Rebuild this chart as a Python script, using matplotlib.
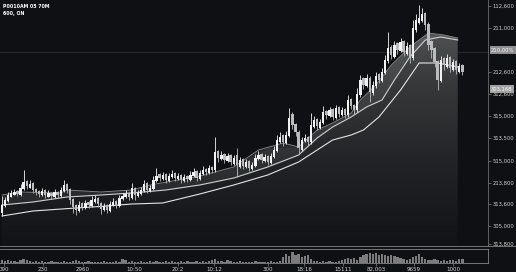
import matplotlib
matplotlib.use("Agg")
import matplotlib.pyplot as plt
from matplotlib.colors import LinearSegmentedColormap
from matplotlib.lines import Line2D
import numpy as np

# candle data (price units, index = bar number)
opens = [37, 44, 49, 53, 55, 59, 55, 61, 69, 62,
         67, 61, 59, 55, 60, 53, 57, 53, 58, 54,
         59, 66, 61, 51, 45, 39, 47, 42, 48, 44,
         48, 52, 47, 40, 45, 39, 45, 49, 44, 51,
         53, 57, 52, 62, 54, 56, 59, 67, 59, 61,
         69, 76, 71, 76, 69, 73, 77, 71, 75, 69,
         74, 70, 74, 79, 71, 76, 81, 77, 83, 80,
         99, 91, 96, 89, 95, 86, 95, 83, 91, 83,
         89, 81, 84, 91, 96, 89, 94, 87, 93, 99,
         108, 115, 107, 114, 136, 126, 118, 100, 109, 113,
         108, 123, 131, 122, 127, 139, 134, 141, 132, 143,
         135, 141, 135, 151, 145, 140, 155, 172, 164, 172,
         157, 164, 176, 169, 177, 189, 203, 193, 207, 199,
         209, 196, 205, 192, 220, 227, 229, 237, 226, 209,
         202, 189, 169, 192, 183, 193, 180, 189, 178, 185]
closes = [45, 50, 55, 57, 58, 56, 62, 68, 64, 66,
          60, 58, 56, 59, 55, 57, 54, 58, 55, 60,
          65, 60, 50, 43, 40, 45, 43, 47, 45, 50,
          51, 46, 41, 44, 40, 46, 48, 45, 52, 54,
          56, 53, 62, 55, 57, 60, 66, 60, 62, 70,
          74, 72, 75, 70, 74, 76, 72, 74, 70, 73,
          71, 75, 78, 72, 77, 80, 78, 82, 80, 98,
          92, 95, 90, 94, 88, 92, 85, 90, 84, 88,
          82, 85, 92, 95, 90, 93, 88, 94, 100, 110,
          113, 108, 115, 132, 125, 118, 102, 110, 112, 108,
          125, 130, 124, 128, 138, 135, 140, 133, 142, 136,
          140, 135, 150, 144, 140, 156, 170, 165, 172, 158,
          165, 174, 170, 178, 190, 202, 195, 205, 200, 208,
          198, 204, 192, 222, 230, 232, 236, 225, 205, 200,
          188, 170, 190, 185, 192, 182, 188, 180, 184, 178]
highs = [54, 53, 58, 60, 61, 60, 66, 80, 70, 70,
         68, 62, 60, 62, 61, 60, 58, 61, 59, 63,
         70, 67, 62, 52, 46, 49, 48, 50, 49, 54,
         55, 53, 48, 47, 46, 49, 52, 50, 55, 57,
         60, 58, 67, 63, 60, 63, 70, 68, 65, 74,
         82, 77, 78, 77, 77, 80, 78, 77, 76, 76,
         75, 79, 82, 80, 80, 84, 82, 85, 84, 113,
         100, 99, 97, 97, 96, 95, 102, 93, 92, 91,
         90, 88, 96, 99, 97, 96, 95, 97, 104, 115,
         118, 116, 119, 142, 138, 127, 120, 113, 116, 114,
         137, 134, 132, 131, 144, 140, 143, 142, 145, 144,
         143, 142, 155, 152, 146, 162, 175, 173, 176, 174,
         169, 178, 177, 182, 195, 218, 205, 209, 208, 212,
         210, 208, 206, 230, 236, 245, 242, 238, 228, 210,
         203, 190, 194, 193, 196, 194, 191, 190, 187, 186]
lows = [34, 43, 48, 53, 55, 54, 54, 60, 61, 62,
        57, 55, 53, 54, 52, 53, 51, 52, 52, 53,
        58, 57, 46, 37, 35, 38, 40, 41, 42, 43,
        47, 43, 36, 39, 37, 38, 44, 42, 43, 50,
        52, 50, 51, 50, 53, 55, 58, 57, 58, 60,
        68, 69, 70, 67, 68, 72, 69, 70, 67, 68,
        68, 69, 73, 69, 70, 75, 75, 76, 77, 78,
        88, 90, 87, 88, 85, 85, 73, 82, 81, 82,
        79, 80, 83, 90, 87, 88, 85, 86, 92, 98,
        107, 104, 106, 113, 121, 114, 97, 99, 108, 105,
        106, 122, 120, 121, 126, 131, 133, 130, 131, 133,
        134, 132, 133, 141, 136, 138, 153, 161, 163, 148,
        155, 162, 167, 168, 176, 187, 191, 192, 196, 198,
        194, 195, 187, 190, 218, 226, 228, 220, 200, 192,
        183, 160, 168, 180, 182, 178, 179, 176, 177, 175]
volumes = [3, 2, 3, 2, 2, 1, 3, 4, 3, 2,
           1, 2, 1, 2, 1, 1, 2, 1, 1, 1,
           2, 1, 1, 2, 3, 2, 1, 1, 2, 1,
           1, 1, 1, 2, 1, 1, 1, 2, 1, 4,
           3, 1, 2, 1, 1, 2, 1, 1, 2, 1,
           2, 1, 1, 2, 1, 2, 1, 1, 2, 1,
           2, 1, 1, 2, 1, 2, 1, 2, 3, 4,
           2, 2, 1, 3, 2, 1, 1, 2, 1, 1,
           1, 1, 2, 1, 1, 1, 1, 2, 1, 1,
           2, 6, 9, 7, 11, 8, 9, 6, 7, 8,
           4, 2, 2, 1, 2, 1, 2, 1, 1, 2,
           3, 4, 5, 4, 5, 3, 6, 8, 9, 10,
           9, 10, 8, 9, 8, 7, 8, 7, 6, 5,
           4, 3, 4, 6, 7, 9, 6, 4, 3, 3,
           4, 3, 2, 3, 2, 3, 3, 2, 4, 4]

# shaded band top edge and the two averages (bar index, price)
band_x = [0, 6, 19, 21, 32, 42, 48, 64, 75, 83, 91, 96, 102, 107, 113,
          116, 121, 126, 132, 138, 143, 147.5]
band_y = [55, 58, 57, 60, 58, 60, 65, 74, 83, 100, 107, 103, 120, 127, 137,
          150, 165, 185, 203, 217, 215, 212]
fast_x = [0, 10, 21, 32, 42, 53, 64, 75, 86, 96, 102, 107, 113, 118, 123,
          127, 132, 137, 142, 147.5]
fast_y = [45, 48, 53, 55, 57, 60, 65, 72, 83, 95, 112, 123, 133, 143, 150,
          170, 193, 210, 213, 210]
slow_x = [0, 10, 24, 34, 42, 52, 64, 75, 86, 96, 102, 107, 113, 117, 122,
          129, 135, 141, 147.5]
slow_y = [34, 39, 42, 44, 46, 47, 56, 65, 75, 88, 100, 110, 115, 120, 133,
          160, 187, 187, 183]

# axis text
header_lines = ["P0010AM 05 70M", "600, ON"]
ytick_pos = [244, 222, 178, 156, 134, 112, 89, 67, 46, 24, 6]
ytick_labels = ["112,600", "211,000", "212,600", "312,600", "315,000", "313,500",
                "515,000", "213,800", "313,600", "305,000", "313,800"]
marker_pos = [200, 161]
marker_labels = ["210,00%", "303,168"]
xtick_pos = [0.65, 13.3, 26.2, 42.7, 57, 68.6, 86.1, 97.7, 110.4, 121, 133.3, 146]
xtick_labels = ["090", "230", "2960", "10:50", "20:2", "10:12", "300", "18:16",
                "15111", "82,003", "9659", "1000"]

BG = "#0f1014"
TEXT = "#d2d2d2"
FRAME = "#858585"
W, H = 516, 272
XLIM = (-0.65, 157.3)
YLIM = (4, 250)

fig = plt.figure(figsize=(W / 100, H / 100), dpi=100, facecolor=BG)
ax = fig.add_axes([0, (H - 246) / H, 488 / W, 246 / H], facecolor=BG)
vax = fig.add_axes([0, (H - 263) / H, 488 / W, 14 / H], facecolor=BG)

# gradient area under the band edge
grad = np.linspace(0, 1, 256).reshape(-1, 1)
cmap = LinearSegmentedColormap.from_list("g", ["#121317", "#222326", "#38393b", "#606062"])
poly = ax.fill_between(band_x, band_y, YLIM[0], color="none", lw=0)
im = ax.imshow(grad, extent=[XLIM[0], XLIM[1], YLIM[0], YLIM[1]], origin="lower",
               aspect="auto", cmap=cmap, zorder=1)
im.set_clip_path(poly.get_paths()[0], transform=ax.transData)

# slightly lighter strip between band edge and fast average
ax.fill_between(fast_x, fast_y, np.interp(fast_x, band_x, band_y),
                color="white", alpha=0.06, lw=0, zorder=1.5)

ax.plot(band_x, band_y, color="#8c8c8c", lw=0.6, zorder=2)
ax.plot(fast_x, fast_y, color="#cfcfcf", lw=0.8, zorder=2)
ax.plot(slow_x, slow_y, color="#e4e4e4", lw=0.8, zorder=2)

ax.axhline(198, color="#2c2d31", lw=0.6, zorder=0.5)

# candles
idx = np.arange(len(closes))
for i in idx:
    o, c = opens[i], closes[i]
    col = "#f2f2f2" if c >= o else "#bcbcbc"
    ax.vlines(i, lows[i], highs[i], color=col, lw=0.6, zorder=3)
    ax.bar(i, max(abs(c - o), 0.8), bottom=min(o, c), width=0.75, color=col,
           lw=0, zorder=4)

ax.set_xlim(*XLIM)
ax.set_ylim(*YLIM)
ax.set_xticks([])
ax.yaxis.tick_right()
ax.set_yticks(ytick_pos)
ax.set_yticklabels(ytick_labels)
ax.tick_params(axis="y", length=2, width=0.5, color=FRAME, labelcolor=TEXT,
               labelsize=3.8, pad=1.5)
for s in ["left", "top", "bottom"]:
    ax.spines[s].set_visible(False)
ax.spines["right"].set_color("#6e6e6e")
ax.spines["right"].set_linewidth(0.6)

# boxed price markers
for pos, lab, fc in zip(marker_pos, marker_labels, ["#8f8f8f", "#a2a2a2"]):
    ax.text(1.006, pos, lab, transform=ax.get_yaxis_transform(), fontsize=3.8,
            color="white", va="center", ha="left", clip_on=False, zorder=6,
            bbox=dict(boxstyle="square,pad=0.25", fc=fc, ec="none"))

# volume
vax.bar(idx, volumes, width=0.75, color="#7c7c7c", lw=0)
vax.axhline(0.4, color="#5a5a5a", lw=0.5)
vax.set_xlim(*XLIM)
vax.set_ylim(0, 14)
vax.set_yticks([])
vax.set_xticks(xtick_pos)
vax.set_xticklabels(xtick_labels)
vax.tick_params(axis="x", length=2, width=0.5, color=FRAME, labelcolor=TEXT,
                labelsize=4.0, pad=1)
vax.spines["left"].set_visible(False)
for s in ["top", "right", "bottom"]:
    vax.spines[s].set_color(FRAME)
    vax.spines[s].set_linewidth(0.6)

# separator across the whole width
fig.add_artist(Line2D([0, 1], [(H - 246) / H] * 2, color=FRAME, lw=0.6))

for k, line in enumerate(header_lines):
    fig.text(3 / W, 1 - (6 + 8 * k) / H, line, fontsize=3.4, color="white",
             fontweight="bold", va="center", ha="left")

fig.savefig("out.png", dpi=100, facecolor=BG)
